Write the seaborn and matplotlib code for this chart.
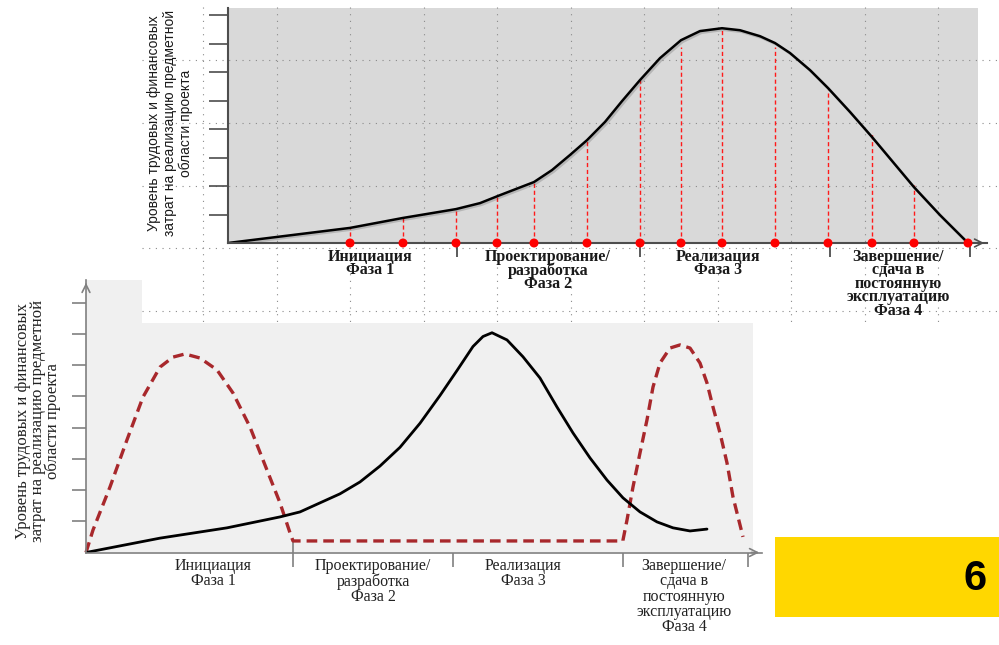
import numpy as np
import pandas as pd
import matplotlib
matplotlib.use("Agg")
import matplotlib.pyplot as plt
import matplotlib.patches as mpatches
import matplotlib.patheffects as pe
import seaborn as sns

sns.set_theme(style="white")
plt.rcParams["font.family"] = ["Liberation Serif", "DejaVu Serif"]

# ---------------- data ----------------
# top chart: effort curve, red points on the time axis
top_x = [0, 12.2, 17.5, 22.8, 25.2, 27.2, 30.6, 32.4, 34.2, 35.9, 37.7, 39.4, 41.2, 43.2, 45.3,
         47.2, 49.4, 51.2, 53.2, 54.7, 56.2, 58.2, 60.0, 62.2, 64.4, 66.5, 68.6, 71.2, 74.0]
top_y = [0, 0.53, 0.88, 1.19, 1.40, 1.68, 2.14, 2.56, 3.09, 3.61, 4.25, 4.98, 5.72, 6.49, 7.12,
         7.44, 7.54, 7.47, 7.26, 7.02, 6.67, 6.07, 5.44, 4.60, 3.72, 2.84, 1.96, 0.98, 0]
dot_x = [12.2, 17.5, 22.8, 26.9, 30.6, 35.9, 41.2, 45.3, 49.4, 54.7, 60.0, 64.4, 68.6, 74.0]
dot_h = [0.53, 0.88, 1.19, 1.61, 2.14, 3.61, 5.72, 6.88, 7.54, 6.88, 5.37, 3.86, 2.04, 0]
top_bounds = [22.9, 41.2, 60.2, 74.2]
top_label_x = [14.2, 32.0, 49.0, 67.0]

# bottom chart: effort curve and management effort (dashed)
bot_x = [0, 7.4, 14.1, 19.4, 21.4, 23.4, 25.4, 27.4, 29.4, 31.4, 33.4, 35.4, 37.1, 38.7,
         39.7, 40.6, 42.1, 43.7, 45.4, 47.1, 48.7, 50.4, 52.1, 53.7, 55.4, 57.1, 58.7, 60.4, 62.1]
bot_y = [0, 0.46, 0.79, 1.14, 1.30, 1.59, 1.88, 2.26, 2.77, 3.37, 4.14, 5.03, 5.83, 6.60,
         6.92, 7.04, 6.81, 6.27, 5.59, 4.66, 3.83, 3.03, 2.32, 1.75, 1.30, 0.98, 0.79, 0.69, 0.75]
mgmt_x = [0, 0.7, 2.4, 4.1, 5.7, 7.4, 8.7, 9.9, 11.4, 13.1, 14.7, 16.4, 18.1, 19.4, 20.4, 20.7,
          53.7, 53.7, 54.1, 54.7, 55.4, 56.1, 56.7, 57.4, 58.4, 59.4, 60.4, 61.4, 62.1, 62.7,
          63.4, 64.1, 64.7, 65.7]
mgmt_y = [0, 0.72, 2.10, 3.61, 4.98, 5.94, 6.26, 6.36, 6.23, 5.85, 5.11, 4.02, 2.64, 1.59, 0.63, 0.37,
          0.37, 0.40, 1.04, 2.10, 3.19, 4.25, 5.30, 6.07, 6.55, 6.65, 6.55, 6.07, 5.43, 4.66,
          3.83, 2.87, 1.78, 0.50]
bot_bounds = [20.7, 36.7, 53.7, 66.2]
bot_label_x = [12.7, 28.7, 43.7, 59.8]

phase_labels = ["Инициация\nФаза 1",
                "Проектирование/\nразработка\nФаза 2",
                "Реализация\nФаза 3",
                "Завершение/\nсдача в\nпостоянную\nэксплуатацию\nФаза 4"]
ylabel_text = ("Уровень трудовых и финансовых\n"
               "затрат на реализацию предметной\n"
               "области проекта")
badge = "6"

W, H = 999, 645


def box(x0, y0, x1, y1):
    # pixel box -> figure fraction
    return [x0 / W, 1 - y1 / H, (x1 - x0) / W, (y1 - y0) / H]


fig = plt.figure(figsize=(W / 100, H / 100), dpi=100)

# background layer: bottom picture panel, yellow badge
ax_bg = fig.add_axes([0, 0, 1, 1], zorder=0)
ax_bg.set_xlim(0, W)
ax_bg.set_ylim(H, 0)
ax_bg.axis("off")
ax_bg.add_patch(mpatches.Rectangle((86, 280), 667, 272, color="#f0f0f0", lw=0))
ax_bg.add_patch(mpatches.Rectangle((775, 537), 224, 80, color="#ffd700", lw=0))
ax_bg.text(975, 579, badge, ha="center", va="center", fontsize=30, fontweight="bold",
           family=["Liberation Sans", "DejaVu Sans"], color="black")

# ---------------- bottom chart ----------------
grey = "#808080"
red_dark = "#a8282c"
ax_b = fig.add_axes(box(86, 280, 762, 552.5), zorder=1)
ax_b.set_facecolor("none")
ax_b.set_xlim(0, 67.6)
ax_b.set_ylim(0, 8.73)
for s in ["top", "right"]:
    ax_b.spines[s].set_visible(False)
for s in ["left", "bottom"]:
    ax_b.spines[s].set_color(grey)
    ax_b.spines[s].set_linewidth(1.2)
ax_b.set_xticks([])
ax_b.set_yticks(range(1, 9))
ax_b.set_yticklabels([])
ax_b.tick_params(axis="y", direction="out", length=10, width=1.2, color=grey, left=True)
ax_b.annotate("", xy=(1.0, 0), xytext=(0.98, 0), xycoords="axes fraction",
              arrowprops=dict(arrowstyle="->", color=grey, lw=1.2, mutation_scale=14))
ax_b.annotate("", xy=(0, 1.0), xytext=(0, 0.97), xycoords="axes fraction",
              arrowprops=dict(arrowstyle="->", color=grey, lw=1.2, mutation_scale=14))
ax_b.vlines(bot_bounds, -0.45, 0, color=grey, lw=1.2, clip_on=False)
ax_b.vlines(bot_bounds[0], 0, 0.37, color=grey, lw=1.2)

mg = pd.DataFrame({"x": mgmt_x, "y": mgmt_y})
sns.lineplot(data=mg, x="x", y="y", ax=ax_b, sort=False, estimator=None, color=red_dark,
             lw=2.4, linestyle=(0, (3.2, 1.8)), clip_on=False)
bc = pd.DataFrame({"x": bot_x, "y": bot_y})
sns.lineplot(data=bc, x="x", y="y", ax=ax_b, sort=False, estimator=None, color="black", lw=2.0)
ax_b.set_xlabel("")
ax_b.set_ylabel("")
for xl, lab in zip(bot_label_x, phase_labels):
    ax_b.text(xl, -0.17, lab, ha="center", va="top", fontsize=11.5, linespacing=0.95,
              color="#222222")
fig.text(38 / W, 1 - 421 / H, ylabel_text, rotation=90, ha="center", va="center",
         multialignment="center", fontsize=12, linespacing=0.92, color="#222222")

# ---------------- top picture: white sheet with dotted grid ----------------
ax_c = fig.add_axes([0, 0, 1, 1], zorder=2)
ax_c.set_facecolor("none")
ax_c.set_xlim(0, W)
ax_c.set_ylim(H, 0)
ax_c.axis("off")
ax_c.add_patch(mpatches.Rectangle((142, 7), 857, 316, color="white", lw=0))
ax_c.add_patch(mpatches.Rectangle((228, 8), 750, 235, color="#d9d9d9", lw=0))
for gx in np.arange(203, 999, 73.5):
    ax_c.plot([gx, gx], [7, 323], color="#8a8a8a", lw=0.8, ls=(0, (1, 5)))
for gy in np.arange(60, 323, 62.8):
    ax_c.plot([142, 999], [gy, gy], color="#8a8a8a", lw=0.8, ls=(0, (1, 5)))

# ---------------- top chart ----------------
dark = "#4d4d4d"
ax_t = fig.add_axes(box(228, 8, 987, 243), zorder=3)
ax_t.set_facecolor("none")
ax_t.set_xlim(0, 75.9)
ax_t.set_ylim(0, 8.25)
for s in ["top", "right"]:
    ax_t.spines[s].set_visible(False)
for s in ["left", "bottom"]:
    ax_t.spines[s].set_color(dark)
    ax_t.spines[s].set_linewidth(1.5)
ax_t.set_xticks([])
ax_t.set_yticks(range(1, 9))
ax_t.set_yticklabels([])
ax_t.tick_params(axis="y", direction="out", length=13.5, width=1.2, color=dark, left=True)
ax_t.annotate("", xy=(1.0, 0), xytext=(0.98, 0), xycoords="axes fraction",
              arrowprops=dict(arrowstyle="->", color=dark, lw=1.2, mutation_scale=14))
ax_t.vlines(top_bounds, -0.5, 0.1, color=dark, lw=1.3, clip_on=False)
ax_t.vlines(dot_x, 0, dot_h, color="#ff1a1a", lw=1.0, linestyles=(0, (3, 2)))

tc = pd.DataFrame({"x": top_x, "y": top_y})
sns.lineplot(data=tc, x="x", y="y", ax=ax_t, sort=False, estimator=None, color="black", lw=1.8,
             path_effects=[pe.SimpleLineShadow(offset=(1.2, -1.2), alpha=0.18), pe.Normal()])
dots = pd.DataFrame({"x": dot_x, "y": [0] * len(dot_x)})
sns.scatterplot(data=dots, x="x", y="y", ax=ax_t, color="#ff0000", s=42, edgecolor="none",
                clip_on=False, zorder=5)
ax_t.set_xlabel("")
ax_t.set_ylabel("")
for xl, lab in zip(top_label_x, phase_labels):
    ax_t.text(xl, -0.2, lab, ha="center", va="top", fontsize=11.5, linespacing=0.8,
              color="#1a1a1a", fontweight="bold")
fig.text(170 / W, 1 - 123 / H, ylabel_text, rotation=90, ha="center", va="center",
         multialignment="center", fontsize=10, linespacing=1.12, color="#1a1a1a",
         family=["Liberation Sans", "DejaVu Sans"], zorder=4)

fig.savefig("out.png", dpi=100)
